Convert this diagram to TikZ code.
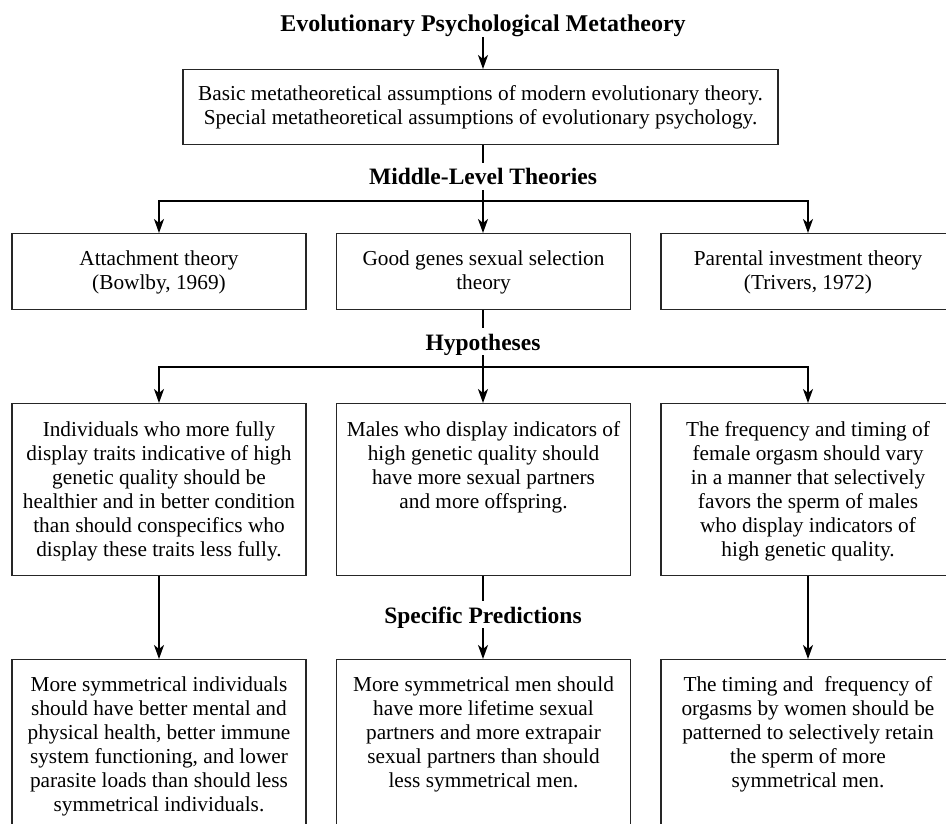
\documentclass[tikz,border=0pt]{standalone}
\usepackage{fontspec}
\setmainfont{Liberation Serif}
\usetikzlibrary{arrows.meta}
\newcommand\bodyfnt{\fontsize{21.3}{24}\selectfont}
\newcommand\headfnt{\fontsize{23.5}{26}\selectfont\bfseries}
\newcommand\titlefnt{\fontsize{24}{26}\selectfont\bfseries}
\newcommand\fl{\rule{0pt}{15pt}}
\tikzset{
  box/.style={draw=black!85, line width=1.3pt, inner xsep=3pt, anchor=north, font=\bodyfnt},
  lbl/.style={font=\headfnt, text height=22pt, text depth=5pt, inner xsep=2pt, inner ysep=0pt, anchor=base},
  conn/.style={line width=2pt, draw=black},
  arr/.style={conn, -{Stealth[length=14pt,width=10pt,inset=4pt]}},
  barr/.style={conn, {Stealth[length=14pt,width=10pt,inset=4pt]}-{Stealth[length=14pt,width=10pt,inset=4pt]}}
}
\begin{document}
\begin{tikzpicture}[x=1pt,y=-1pt]
\useasboundingbox (0,0) rectangle (946,824);
\clip (0,0) rectangle (946,824);

% headings
\node[lbl, font=\titlefnt, text height=16pt] (title) at (483,32) {Evolutionary Psychological Metatheory};
\node[lbl] (mll) at (483,185) {Middle-Level Theories};
\node[lbl] (hyl) at (483,350) {Hypotheses};
\node[lbl] (spl) at (483,623) {Specific Predictions};

% top box
\node[box, inner ysep=16pt, minimum width=595pt] (meta) at (480.5,69)
  {\parbox[t][43pt][t]{585pt}{\centering\fl Basic metatheoretical assumptions of modern evolutionary theory.\\
   Special metatheoretical assumptions of evolutionary psychology.}};

% middle-level theories
\node[box, inner ysep=17pt, minimum width=294pt] (ml1) at (159,233)
  {\parbox[t][42pt][t]{286pt}{\centering\fl Attachment theory\\(Bowlby, 1969)}};
\node[box, inner ysep=17pt, minimum width=294pt] (ml2) at (483.5,233)
  {\parbox[t][42pt][t]{286pt}{\centering\fl Good genes sexual selection\\theory}};
\node[box, inner ysep=17pt, minimum width=294pt] (ml3) at (808,233)
  {\parbox[t][42pt][t]{286pt}{\centering\fl Parental investment theory\\(Trivers, 1972)}};

% hypotheses
\node[box, inner ysep=18pt, minimum width=294pt] (h1) at (159,403)
  {\parbox[t][136pt][t]{286pt}{\centering\fl Individuals who more fully\\
   display traits indicative of high\\ genetic quality should be\\
   healthier and in better condition\\ than should conspecifics who\\
   display these traits less fully.}};
\node[box, inner ysep=18pt, minimum width=294pt] (h2) at (483.5,403)
  {\parbox[t][136pt][t]{286pt}{\centering\fl Males who display indicators of\\
   high genetic quality should\\ have more sexual partners\\ and more offspring.}};
\node[box, inner ysep=18pt, minimum width=294pt] (h3) at (808,403)
  {\parbox[t][136pt][t]{286pt}{\centering\fl The frequency and timing of\\
   female orgasm should vary\\ in a manner that selectively\\
   favors the sperm of males\\ who display indicators of\\ high genetic quality.}};

% predictions
\node[box, inner ysep=17pt, minimum width=294pt] (p1) at (159,659)
  {\parbox[t][138pt][t]{286pt}{\centering\fl More symmetrical individuals\\
   should have better mental and\\ physical health, better immune\\
   system functioning, and lower\\ parasite loads than should less\\
   symmetrical individuals.}};
\node[box, inner ysep=17pt, minimum width=294pt] (p2) at (483.5,659)
  {\parbox[t][138pt][t]{286pt}{\centering\fl More symmetrical men should\\
   have more lifetime sexual\\ partners and more extrapair\\
   sexual partners than should\\ less symmetrical men.}};
\node[box, inner ysep=17pt, minimum width=294pt] (p3) at (808,659)
  {\parbox[t][138pt][t]{286pt}{\centering\fl The timing and~ frequency of\\
   orgasms by women should be\\ patterned to selectively retain\\
   the sperm of more\\ symmetrical men.}};

% connectors
\draw[arr] (title.south) -- (title.south |- meta.north);
\draw[conn] (mll.north |- meta.south) -- (mll.north);
\draw[arr] (mll.south) -- (mll.south |- ml2.north);
\coordinate (j1) at (483,201);
\draw[barr] (ml1.north) -- (ml1.north |- j1) -- (ml3.north |- j1) -- (ml3.north);

\draw[conn] (hyl.north |- ml2.south) -- (hyl.north);
\draw[arr] (hyl.south) -- (hyl.south |- h2.north);
\coordinate (j2) at (483,367);
\draw[barr] (h1.north) -- (h1.north |- j2) -- (h3.north |- j2) -- (h3.north);

\draw[arr] (h1) -- (p1);
\draw[arr] (h3) -- (p3);
\draw[conn] (spl.north |- h2.south) -- (spl.north);
\draw[arr] (spl.south) -- (spl.south |- p2.north);
\end{tikzpicture}
\end{document}
